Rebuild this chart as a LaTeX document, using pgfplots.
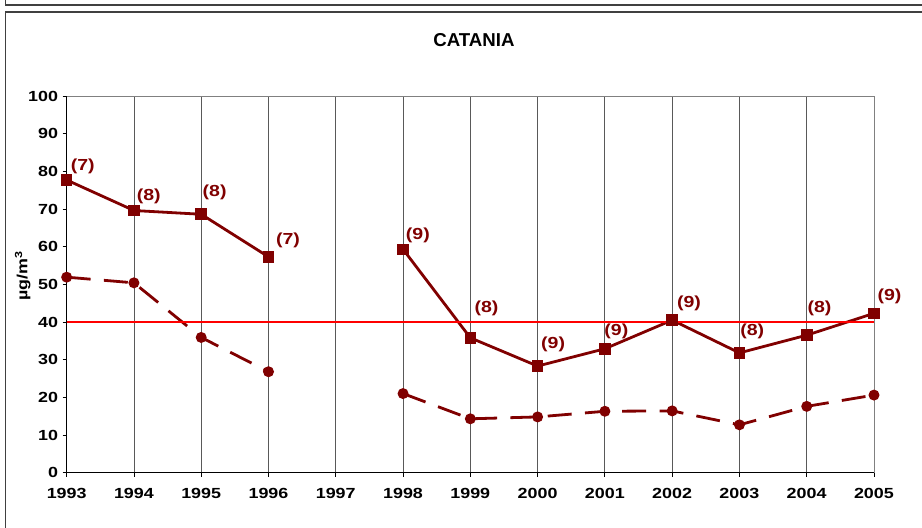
\documentclass[border=0pt]{standalone}
\usepackage{fontspec}
\setmainfont{Liberation Sans}[FakeStretch=1.22]
\newfontfamily\titlefont{Liberation Sans}
\usepackage{pgfplots}
\usepackage{pgfplotstable}
\pgfplotsset{compat=1.18}
\definecolor{dred}{HTML}{800000}
\pgfplotstableread{
x y
1993 77.7
1994 69.6
1995 68.6
1996 57.3
1997 nan
1998 59.3
1999 35.8
2000 28.3
2001 32.9
2002 40.5
2003 31.8
2004 36.5
2005 42.3
}\solid
\pgfplotstableread{
x y
1993 51.9
1994 50.4
1995 35.9
1996 26.8
1997 nan
1998 21.0
1999 14.3
2000 14.8
2001 16.3
2002 16.4
2003 12.7
2004 17.6
2005 20.6
}\dashed
\pgfplotstableread{
x y lab
1993.24 81.4 (7)
1994.22 73.4 (8)
1995.20 74.5 (8)
1996.29 61.8 (7)
1998.22 63.1 (9)
1999.24 43.6 (8)
2000.23 34.0 (9)
2001.17 37.4 (9)
2002.25 45.0 (9)
2003.19 37.4 (8)
2004.19 43.6 (8)
2005.23 46.8 (9)
}\labels
\begin{document}
\begin{tikzpicture}
\useasboundingbox (0,0) rectangle (691.5pt,-396pt);
\draw[black!75, line width=1.1pt] (4.1pt,0) -- (4.1pt,-3.75pt) -- (700pt,-3.75pt);
\draw[black!75, line width=1.1pt] (700pt,-9pt) -- (4.1pt,-9pt) -- (4.1pt,-410pt);
\node[font=\titlefont\bfseries\fontsize{14}{16}\selectfont] at (355.5pt,-30pt) {CATANIA};
\node[rotate=90, font=\bfseries\fontsize{11}{13}\selectfont] at (17pt,-207pt) {µg/m\textsuperscript{3}};
\begin{axis}[
 at={(50pt,-354.5pt)}, anchor=south west,
 scale only axis, width=605.5pt, height=282.5pt,
 xmin=1993, xmax=2005, ymin=0, ymax=100,
 xtick={1993,...,2005}, ytick={0,10,...,100},
 axis x line*=bottom, axis y line*=left,
 axis line style={black, line width=0.8pt},
 xmajorgrids, grid style={black!65, line width=0.6pt},
 tick align=outside, major tick length=3pt, tick style={black, line width=0.6pt},
 ticklabel style={font=\bfseries\fontsize{11}{13}\selectfont},
 xticklabel style={yshift=-5pt},
 /pgf/number format/assume math mode=true,
 /pgf/number format/1000 sep={},
 unbounded coords=jump,
 clip=false,
]
\draw[black!50, line width=0.6pt] (rel axis cs:0,1) -- (rel axis cs:1,1) -- (rel axis cs:1,0);
\addplot[dred, line width=2.1pt, mark=square*, mark size=3.3pt, mark options={solid}] table[x=x,y=y] {\solid};
\addplot[dred, line width=2.1pt, dash pattern=on 18pt off 10pt, mark=*, mark size=3pt, mark options={solid}] table[x=x,y=y] {\dashed};
\addplot[red, line width=1.5pt] coordinates {(1993,40) (2005,40)};
\addplot[draw=none, mark=none, nodes near coords, point meta=explicit symbolic,
  nodes near coords style={anchor=center, inner sep=0pt, text=dred, font=\bfseries\fontsize{12}{14}\selectfont}]
  table[x=x,y=y,meta=lab] {\labels};
\end{axis}
\end{tikzpicture}
\end{document}
